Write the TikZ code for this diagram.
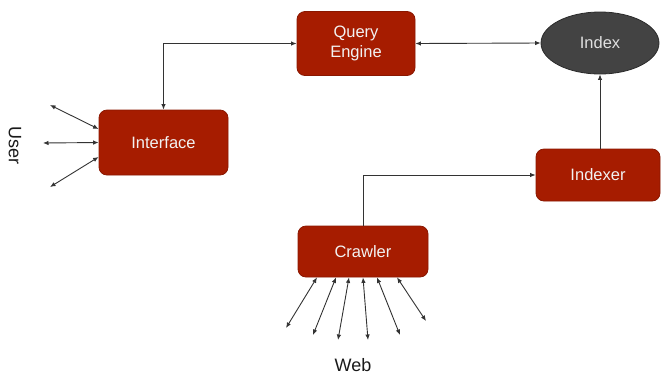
\documentclass[tikz,border=0pt]{standalone}
\usepackage{fontspec}
\setmainfont{Liberation Sans}
\usetikzlibrary{shapes.geometric,arrows.meta,calc}
\definecolor{boxred}{HTML}{A61C00}
\definecolor{boxedge}{HTML}{8A1700}
\definecolor{idxfill}{HTML}{434343}
\definecolor{idxedge}{HTML}{2B2B2B}
\definecolor{linecol}{HTML}{333333}
\tikzset{
  redbox/.style={draw=boxedge, fill=boxred, rounded corners=8pt, line width=0.8pt,
    text=white!95!black, align=center, inner sep=0pt,
    font=\fontsize{16.5}{20.5}\selectfont},
  conn/.style={draw=linecol, line width=0.9pt, {Latex[length=5.5pt,width=4.5pt]}-{Latex[length=5.5pt,width=4.5pt]}},
  oneway/.style={draw=linecol, line width=0.9pt, -{Latex[length=5.5pt,width=4.5pt]}},
  lbl/.style={font=\fontsize{18}{21}\selectfont, text=black!90}
}
\begin{document}
\begin{tikzpicture}[x=1pt,y=-1pt]
\useasboundingbox (0,0) rectangle (661,376);
\node[redbox, minimum width=118pt, minimum height=64pt] (query) at (356,43.5) {Query\\Engine};
\node[ellipse, draw=idxedge, fill=idxfill, line width=0.8pt, minimum width=118pt, minimum height=62pt,
  inner sep=0pt, text=white!88!black, font=\fontsize{16.5}{19.5}\selectfont] (index) at (600,43) {Index};
\node[redbox, minimum width=129pt, minimum height=65pt] (interface) at (163.5,142.5) {Interface};
\node[redbox, minimum width=124pt, minimum height=52pt] (indexer) at (598,175) {Indexer};
\node[redbox, minimum width=130pt, minimum height=51pt] (crawler) at (363,251.5) {Crawler};

\node[lbl, rotate=-90] (user) at (15,145) {User};
\node[lbl] (web) at (353,365) {Web};

\draw[conn] (interface.north) |- (query.west);
\draw[conn] (query.east) -- (index.west);
\draw[oneway] (indexer.north -| index.south) -- (index.south);
\draw[oneway] (crawler.north) |- (indexer.west);

\coordinate (u1) at (50,105);
\coordinate (u2) at (43,143);
\coordinate (u3) at (50,187);
\draw[conn] (u1) -- ([yshift=13.5pt]interface.west);
\draw[conn] (u2) -- (interface.west);
\draw[conn] (u3) -- ([yshift=-14.5pt]interface.west);

\coordinate (w1) at (286,328);
\coordinate (w2) at (313,335);
\coordinate (w3) at (338,340);
\coordinate (w4) at (368,340);
\coordinate (w5) at (400,335);
\coordinate (w6) at (426,321);
\draw[conn] (w1) -- ([xshift=-46pt]crawler.south);
\draw[conn] (w2) -- ([xshift=-27pt]crawler.south);
\draw[conn] (w3) -- ([xshift=-14pt]crawler.south);
\draw[conn] (w4) -- (crawler.south);
\draw[conn] (w5) -- ([xshift=14pt]crawler.south);
\draw[conn] (w6) -- ([xshift=34pt]crawler.south);
\end{tikzpicture}
\end{document}
